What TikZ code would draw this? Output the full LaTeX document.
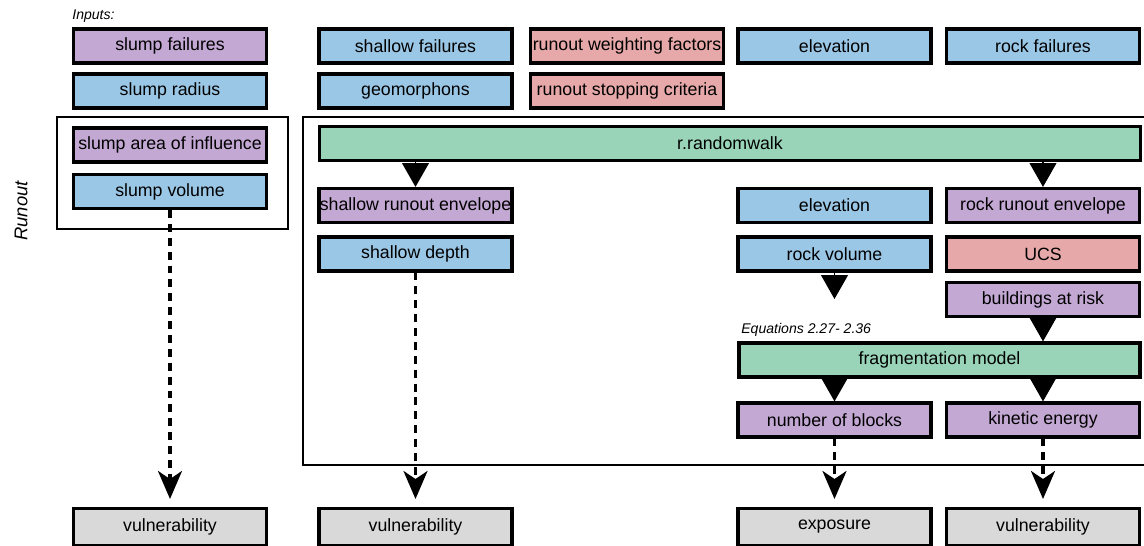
\documentclass[tikz,border=0pt]{standalone}
\usepackage{fontspec}
\setmainfont{Liberation Sans}
\usepackage{tikz}
\usetikzlibrary{arrows.meta}

\definecolor{inpurple}{RGB}{195,168,211}
\definecolor{inblue}{RGB}{155,199,230}
\definecolor{inpink}{RGB}{230,168,168}
\definecolor{modgreen}{RGB}{153,212,184}
\definecolor{outgray}{RGB}{217,217,217}

\tikzset{
  box/.style={shape=rectangle,draw=black,line width=1.8pt,minimum width=3.86cm,minimum height=0.68cm,inner sep=0pt,font=\fontsize{10.1}{12}\selectfont},
  purplebox/.style={box,fill=inpurple},
  bluebox/.style={box,fill=inblue},
  pinkbox/.style={box,fill=inpink},
  greenbox/.style={box,fill=modgreen},
  graybox/.style={box,fill=outgray,minimum height=0.74cm},
  frame/.style={draw=black,line width=1.5pt},
  tri/.style={line width=0.8pt,-{Triangle[width=15.3pt,length=13.6pt]}},
  dasharrow/.style={line width=2pt,dash pattern=on 4.5pt off 3.4pt,-{Stealth[width=13.6pt,length=15.9pt,inset=4.5pt]},shorten >=4.5pt},
  note/.style={font=\fontsize{8}{10}\selectfont\itshape,anchor=west,inner sep=0pt}
}

\begin{document}
\begin{tikzpicture}[x=0.02cm,y=-0.02cm]
        \useasboundingbox (0,0) rectangle (1144,546);

        \draw[frame] (57,117) rectangle (288,229);
        \draw[frame] (303,117) rectangle (1152,465);

        \node[note] (inp) at (72,16) {Inputs:};
        \node[note] (eqs) at (741,330) {Equations 2.27- 2.36};
        \node[font=\fontsize{10.5}{12}\selectfont\itshape,rotate=90] (run) at (21,211) {Runout};

        \node[purplebox] (sf) at (170,46)     {slump failures};
        \node[bluebox] (sr) at (170,91)     {slump radius};
        \node[bluebox] (shf) at (415.5,46)     {shallow failures};
        \node[bluebox] (geo) at (415.5,91)     {geomorphons};
        \node[pinkbox] (rwf) at (627,46)     {runout weighting factors};
        \node[pinkbox] (rsc) at (627,91)     {runout stopping criteria};
        \node[bluebox] (el) at (834.5,46)     {elevation};
        \node[bluebox] (rf) at (1043,46)     {rock failures};

        \node[purplebox] (sai) at (170,145)     {slump area of influence};
        \node[bluebox] (sv) at (170,191.5)     {slump volume};

        \node[greenbox,minimum width=16.42cm] (rw) at (730,143.5)     {r.randomwalk};
        \node[purplebox] (sre) at (415.5,205.5)     {shallow runout envelope};
        \node[bluebox] (sd) at (415.5,254)     {shallow depth};
        \node[bluebox] (el2) at (834.5,205.5)     {elevation};
        \node[bluebox] (rv) at (834.5,254)     {rock volume};
        \node[purplebox] (rre) at (1043,205.5)     {rock runout envelope};
        \node[pinkbox] (ucs) at (1043,254)     {UCS};
        \node[purplebox] (bar) at (1043,299.5)     {buildings at risk};
        \node[greenbox,minimum width=8.02cm] (fm) at (939.5,360)     {fragmentation model};
        \node[purplebox] (nb) at (834.5,420)     {number of blocks};
        \node[purplebox] (ke) at (1043,420)     {kinetic energy};

        \node[graybox] (v1) at (170,527)     {vulnerability};
        \node[graybox] (v2) at (415.5,527)     {vulnerability};
        \node[graybox] (exp) at (834.5,527)     {exposure};
        \node[graybox] (v3) at (1043,527)     {vulnerability};

        \coordinate (rvend) at (834.5,299);

	\path[tri] (rw.south -| sre.north) edge (sre.north);
	\path[tri] (rw.south -| rre.north) edge (rre.north);
	\path[tri] (rv.south) edge (rvend);
	\path[tri] (bar.south) edge (fm.north -| bar.south);
	\path[tri] (fm.south -| nb.north) edge (nb.north);
	\path[tri] (fm.south -| ke.north) edge (ke.north);

	\path[dasharrow] (sv.south) edge (v1.north);
	\path[dasharrow] (sd.south) edge (v2.north);
	\path[dasharrow] (nb.south) edge (exp.north);
	\path[dasharrow] (ke.south) edge (v3.north);
\end{tikzpicture}
\end{document}
